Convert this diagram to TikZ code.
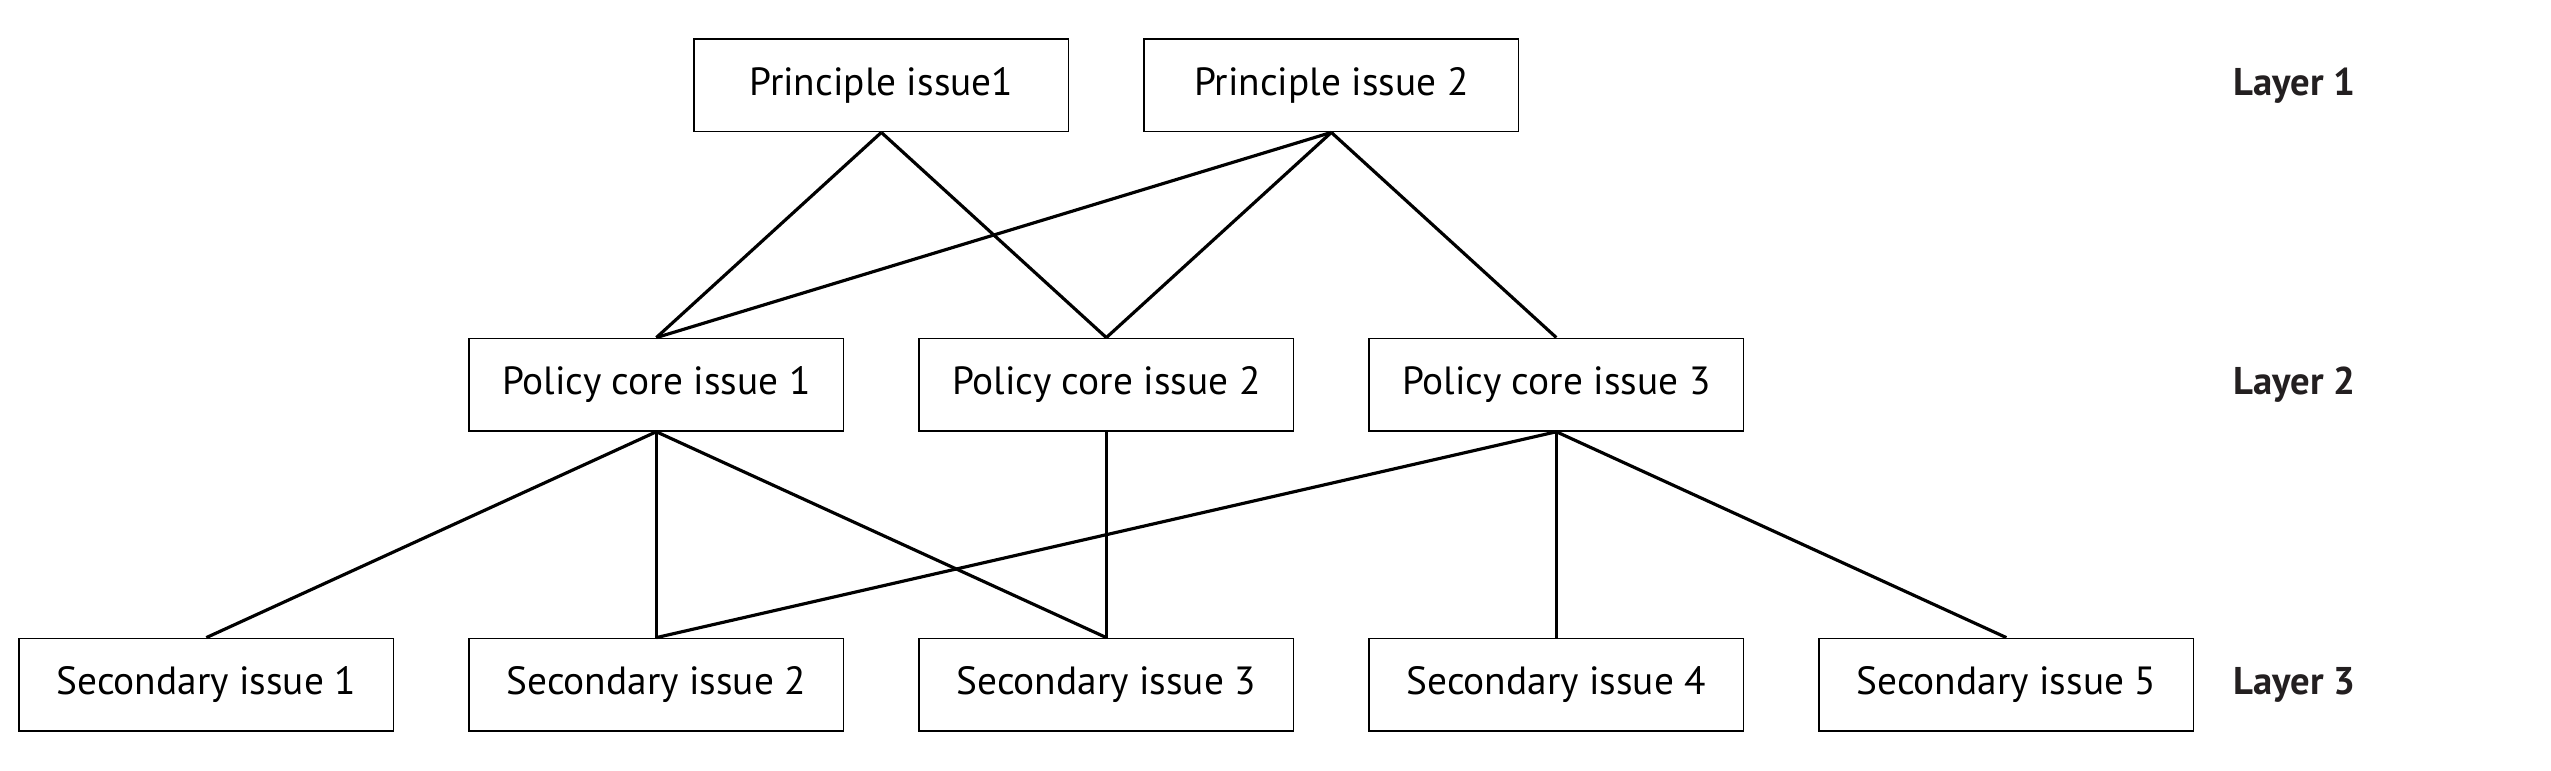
\documentclass[tikz,border=0pt]{standalone}
\usepackage{fontspec}
\setmainfont{PT Sans}
\usetikzlibrary{positioning,calc}
\definecolor{ll}{RGB}{35,31,32}

\begin{document}
\begin{tikzpicture}[x=1pt,y=1pt,
  issue/.style={rectangle, draw, line width=0.55pt, minimum width=112.3pt, minimum height=27.7pt, inner sep=0, font=\fontsize{11.8}{14}\selectfont},
  layer/.style={inner sep=0, color=ll, font=\fontsize{11.6}{14}\selectfont\bfseries},
  link/.style={line width=0.95pt}]
\useasboundingbox (0,0) rectangle (765.3,-231);

\node[issue] (S1) at (61.9,-205.4) {Secondary issue 1};
\node[issue, on grid, right=135pt of S1] (S2) {Secondary issue 2};
\node[issue, on grid, right=135pt of S2] (S3) {Secondary issue 3};
\node[issue, on grid, right=135pt of S3] (S4) {Secondary issue 4};
\node[issue, on grid, right=135pt of S4] (S5) {Secondary issue 5};
\node[issue, on grid, above=90pt of S2] (C1) {Policy core issue 1};
\node[issue, on grid, above=90pt of S3] (C2) {Policy core issue 2};
\node[issue, on grid, above=90pt of S4] (C3) {Policy core issue 3};
\node[issue] (P1) at ($(C1)!0.5!(C2)+(0,89.8)$) {Principle issue1};
\node[issue] (P2) at ($(C2)!0.5!(C3)+(0,89.8)$) {Principle issue 2};

\node[layer, right=11.5pt of S5] (L3) {Layer 3};
\node[layer] (L2) at (L3 |- C1) {Layer 2};
\node[layer] (L1) at (L3 |- P1) {Layer 1};

\draw[link] (P1.south) -- (C1.north);
\draw[link] (P1.south) -- (C2.north);
\draw[link] (P2.south) -- (C1.north);
\draw[link] (P2.south) -- (C2.north);
\draw[link] (P2.south) -- (C3.north);
\draw[link] (C1.south) -- (S1.north);
\draw[link] (C1.south) -- (S2.north);
\draw[link] (C1.south) -- (S3.north);
\draw[link] (C2.south) -- (S3.north);
\draw[link] (C3.south) -- (S2.north);
\draw[link] (C3.south) -- (S4.north);
\draw[link] (C3.south) -- (S5.north);

\end{tikzpicture}
\end{document}
